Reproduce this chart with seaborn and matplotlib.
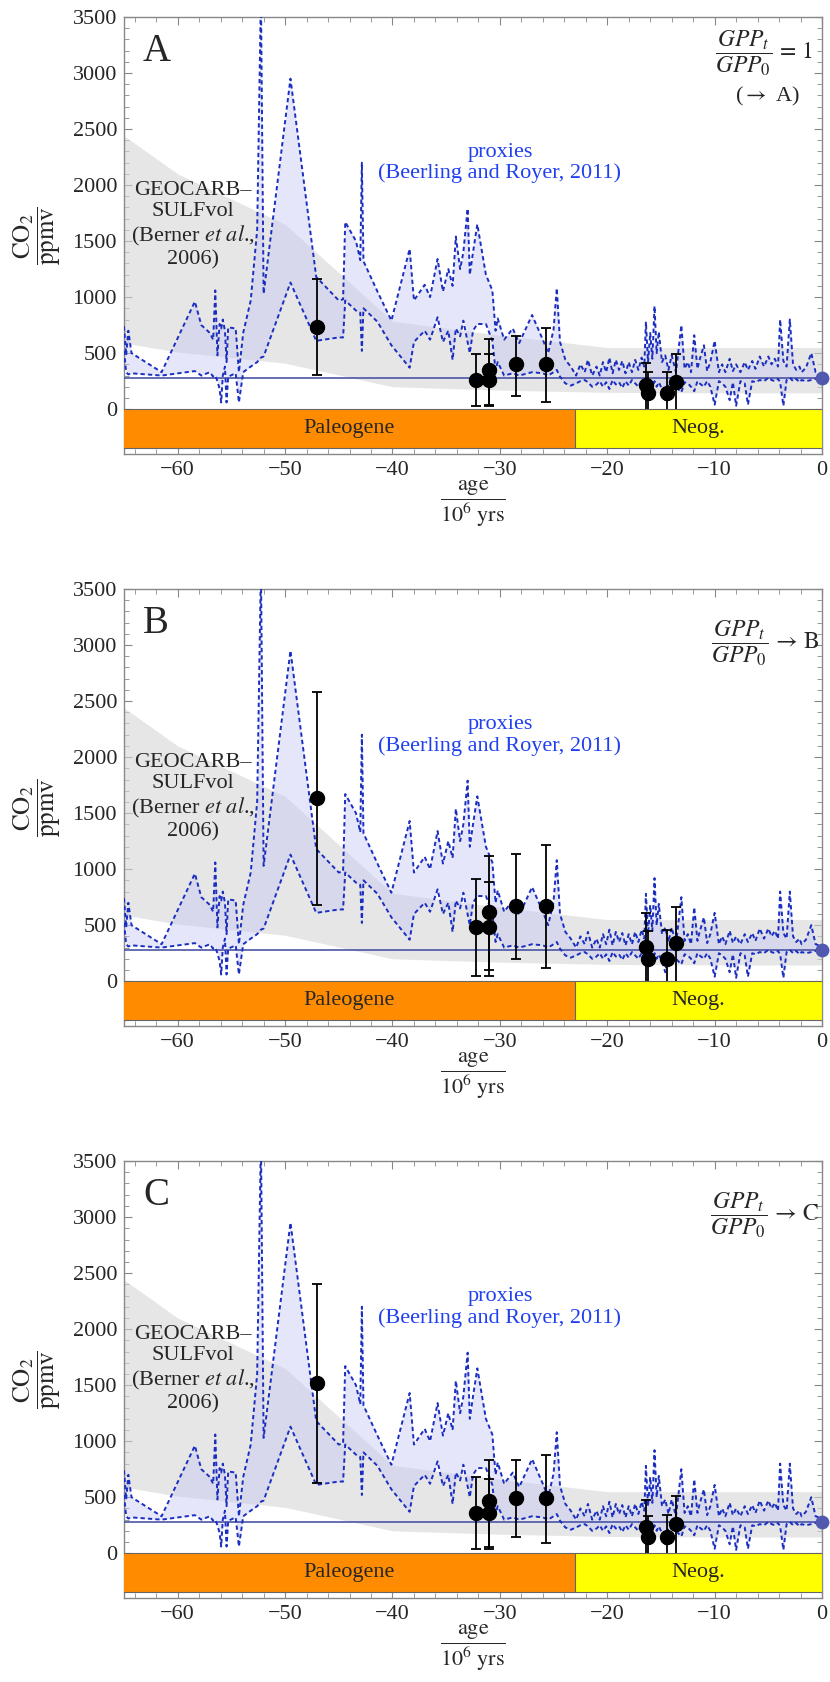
import numpy as np
import matplotlib.pyplot as plt
import seaborn as sns
from matplotlib.ticker import MultipleLocator, FixedLocator

sns.set_style("ticks")
plt.rcParams["font.family"] = ["Liberation Serif", "DejaVu Serif"]
plt.rcParams["mathtext.fontset"] = "stix"

# GEOCARB-SULFvol envelope (Berner et al. 2006)
geo_age = [-65, -60, -50, -40, -30, -20, -10, 0]
geo_hi = [2440, 2100, 1650, 785, 660, 550, 550, 550]
geo_lo = [590, 510, 410, 200, 170, 150, 145, 145]

# proxy envelope (Beerling and Royer 2011)
proxy_age = [-65.0, -64.8, -64.6, -64.3, -61.5, -58.4, -57.8, -57.0, -56.7, -56.5,
             -56.3, -56.1, -55.95, -55.8, -55.6, -55.45, -55.3, -54.6, -54.3, -53.9,
             -53.2, -52.6, -52.25, -52.0, -49.5, -47.1, -45.0, -44.6, -44.4, -43.4,
             -43.0, -42.85, -42.7, -41.4, -40.1, -38.4, -38.0, -37.0, -36.5, -35.8,
             -35.3, -34.8, -34.4, -34.1, -33.7, -33.4, -33.0, -32.8, -32.5, -32.1,
             -31.3, -30.7, -30.4, -30.2, -29.6, -28.8, -28.2, -27.0, -26.0, -25.5,
             -25.0, -24.7, -24.4, -23.9,
             -23.4, -22.9, -22.5, -22.1, -21.8, -21.4, -21.0, -20.7, -20.4, -20.1,
             -19.8, -19.5, -19.2, -18.9, -18.6, -18.3, -18.0, -17.7, -17.4, -17.1,
             -16.8, -16.55, -16.4, -16.2, -16.0, -15.8, -15.6, -15.4, -15.2, -14.9,
             -14.6, -14.3, -14.0, -13.6, -13.1, -12.8, -12.5, -12.2, -11.9, -11.6,
             -11.4, -11.0, -10.7, -10.4, -10.0, -9.6, -9.3, -9.0, -8.6, -8.3,
             -8.0, -7.6, -7.2, -6.9, -6.5, -6.2, -5.8, -5.4, -5.0, -4.7,
             -4.4, -4.1, -3.9, -3.6, -3.3, -3.0, -2.7, -2.4, -2.1, -1.9,
             -1.5, -1.0, -0.6, -0.3, 0.0]
proxy_hi = [740, 480, 700, 500, 330, 960, 750, 680, 620, 1060,
            480, 760, 720, 800, 700, 420, 730, 720, 330, 680,
            970, 1600, 3700, 1030, 2950, 1180, 970, 980, 1670, 1500,
            1330, 2200, 1320, 1050, 790, 1430, 970, 1110, 1000, 1340,
            1050, 1250, 1100, 1540, 1250, 1400, 1790, 1200, 1400, 1650,
            1200, 1060, 700, 810, 620, 720, 590, 840, 620, 500,
            710, 1080, 600, 440,
            380, 300, 400, 330, 440, 300, 380, 300, 420, 330,
            460, 320, 440, 350, 430, 320, 420, 330, 440, 350,
            460, 380, 780, 420, 680, 450, 920, 500, 690, 420,
            480, 350, 480, 330, 750, 360, 420, 330, 660, 360,
            440, 570, 340, 420, 610, 330, 400, 330, 450, 340,
            400, 330, 420, 350, 430, 360, 470, 380, 470, 400,
            450, 380, 800, 430, 380, 800, 400, 350, 380, 330,
            370, 500, 330, 320, 280]
proxy_lo = [520, 330, 310, 320, 300, 340, 300, 330, 290, 300,
            250, 180, 60, 300, 380, 60, 290, 320, 60, 330,
            380, 420, 460, 470, 1130, 610, 640, 640, 970, 880,
            860, 520, 900, 780, 570, 370, 600, 700, 620, 820,
            600, 700, 440, 720, 650, 790, 600, 500, 700, 760,
            760, 610, 350, 420, 300, 320, 300, 330, 320, 300,
            330, 350, 290, 230,
            210, 230, 250, 260, 240, 200, 220, 250, 200, 240,
            180, 260, 220, 240, 190, 250, 210, 260, 230, 200,
            250, 180, 230, 160, 220, 180, 250, 200, 240, 180,
            80, 230, 220, 200, 150, 240, 230, 200, 160, 250,
            230, 200, 250, 200, 40, 250, 230, 200, 80, 240,
            30, 250, 230, 40, 250, 240, 260, 250, 280, 260,
            250, 270, 240, 30, 260, 280, 250, 270, 240, 260,
            250, 260, 270, 270, 280]

pre_industrial = 280

# geological periods shown under the curves
period_name = ["Paleogene", "Neog."]
period_start = [-66.0, -23.03]
period_end = [-23.03, 0.0]
period_color = ["#ff8c00", "#ffff00"]

# model results (black dots with error bars)
dot_age = [-47.0, -32.2, -31.0, -31.0, -28.5, -25.7, -16.4, -16.25, -14.4, -13.6]
panels = {
    "A": dict(
        co2=[737, 262, 351, 262, 399, 405, 214, 144, 144, 246],
        lo=[303, 26, 38, 26, 118, 67, -60, -100, -60, -40],
        hi=[1164, 488, 628, 488, 654, 727, 415, 330, 335, 488],
    ),
    "B": dict(
        co2=[1632, 480, 614, 480, 670, 673, 301, 197, 197, 337],
        lo=[679, 48, 98, 48, 197, 122, -60, -100, -60, -40],
        hi=[2577, 909, 1120, 888, 1135, 1215, 611, 450, 456, 664],
    ),
    "C": dict(
        co2=[1519, 360, 462, 357, 497, 489, 238, 143, 143, 259],
        lo=[626, 39, 60, 39, 149, 89, -60, -100, -60, -40],
        hi=[2407, 679, 828, 661, 828, 873, 471, 330, 343, 512],
    ),
}

line_blue = "#1a2ec0"
frame_gray = "#888888"

fig = plt.figure(figsize=(8.3, 16.82), dpi=100)
bottoms = [0.7301, 0.3900, 0.0499]

for (letter, d), bottom in zip(panels.items(), bottoms):
    ax = fig.add_axes([0.1494, bottom, 0.841, 0.2598])

    # GEOCARB band
    ax.fill_between(geo_age, geo_lo, geo_hi, color="#d6d6d6", alpha=0.6, lw=0, zorder=1)
    # proxy band
    ax.fill_between(proxy_age, proxy_lo, proxy_hi, color="#c8c8f4", alpha=0.45, lw=0, zorder=2)

    ax.axhline(pre_industrial, color="#4a55a5", lw=1.2, zorder=3)

    sns.lineplot(x=proxy_age, y=proxy_hi, ax=ax, color=line_blue, lw=1.4,
                 linestyle=(0, (2.2, 1.6)), estimator=None, sort=False, zorder=4)
    sns.lineplot(x=proxy_age, y=proxy_lo, ax=ax, color=line_blue, lw=1.4,
                 linestyle=(0, (2.2, 1.6)), estimator=None, sort=False, zorder=4)

    co2 = np.array(d["co2"])
    yerr = [co2 - np.array(d["lo"]), np.array(d["hi"]) - co2]
    ax.errorbar(dot_age, co2, yerr=yerr, fmt="none", ecolor="black", elinewidth=1.3,
                capsize=3.5, capthick=1.3, zorder=5)
    sns.scatterplot(x=dot_age, y=co2, ax=ax, s=105, color="black", edgecolor="black",
                    zorder=6)
    ax.scatter([0], [pre_industrial], s=80, color="#5058b0", zorder=6, clip_on=False)

    # period bars
    for name, s, e, c in zip(period_name, period_start, period_end, period_color):
        ax.barh(-175, e - s, left=s, height=350, color=c, edgecolor="#666666",
                lw=0.8, zorder=7)
        ax.text((max(s, -65) + e) / 2, -175, name, ha="center", va="center",
                fontsize=16, zorder=8)

    ax.set_xlim(-65, 0)
    ax.set_ylim(-400, 3500)
    ax.set_yticks(np.arange(0, 3501, 500))
    ax.yaxis.set_minor_locator(FixedLocator(np.arange(0, 3501, 100)))
    ax.xaxis.set_major_locator(MultipleLocator(10))
    ax.xaxis.set_minor_locator(MultipleLocator(2))
    ax.tick_params(which="both", direction="in", top=True, right=True,
                   color=frame_gray, labelsize=16)
    ax.tick_params(which="major", length=6, width=0.8)
    ax.tick_params(which="minor", length=3.5, width=0.6)
    ax.tick_params(axis="x", pad=5)
    ax.tick_params(axis="y", pad=5)
    for sp in ax.spines.values():
        sp.set_color(frame_gray)
        sp.set_linewidth(1.0)

    ax.set_ylabel(r"$\dfrac{\mathrm{CO}_2}{\mathrm{ppmv}}$", fontsize=18)
    ax.yaxis.set_label_coords(-0.088, 0.5)
    ax.set_xlabel(r"$\dfrac{\mathrm{age}}{10^{6}\ \mathrm{yrs}}$", fontsize=16, labelpad=-1)

    ax.text(-62.0, 0.922, letter, transform=ax.get_xaxis_transform(), fontsize=28,
            ha="center", va="center")

    if letter == "A":
        ax.text(0.987, 0.918, r"$\dfrac{GPP_t}{GPP_0}\,=\,1$", transform=ax.transAxes,
                ha="right", va="center", fontsize=17)
        ax.text(0.921, 0.817, r"($\rightarrow$ A)", transform=ax.transAxes,
                ha="center", va="center", fontsize=16)
    else:
        ax.text(0.997, 0.876, r"$\dfrac{GPP_t}{GPP_0}\,\rightarrow\,\mathrm{%s}$" % letter,
                transform=ax.transAxes, ha="right", va="center", fontsize=17)

    ax.text(-58.6, 1642, "GEOCARB\u2013\nSULFvol\n(Berner $\\it{et\\ al}$.,\n2006)",
            ha="center", va="center", fontsize=16, linespacing=1.15, zorder=8)
    ax.text(-30.0, 2197, "proxies\n(Beerling and Royer, 2011)", color="#2040f0",
            ha="center", va="center", fontsize=16, linespacing=1.15, zorder=8)

fig.savefig("out.png", dpi=100)
